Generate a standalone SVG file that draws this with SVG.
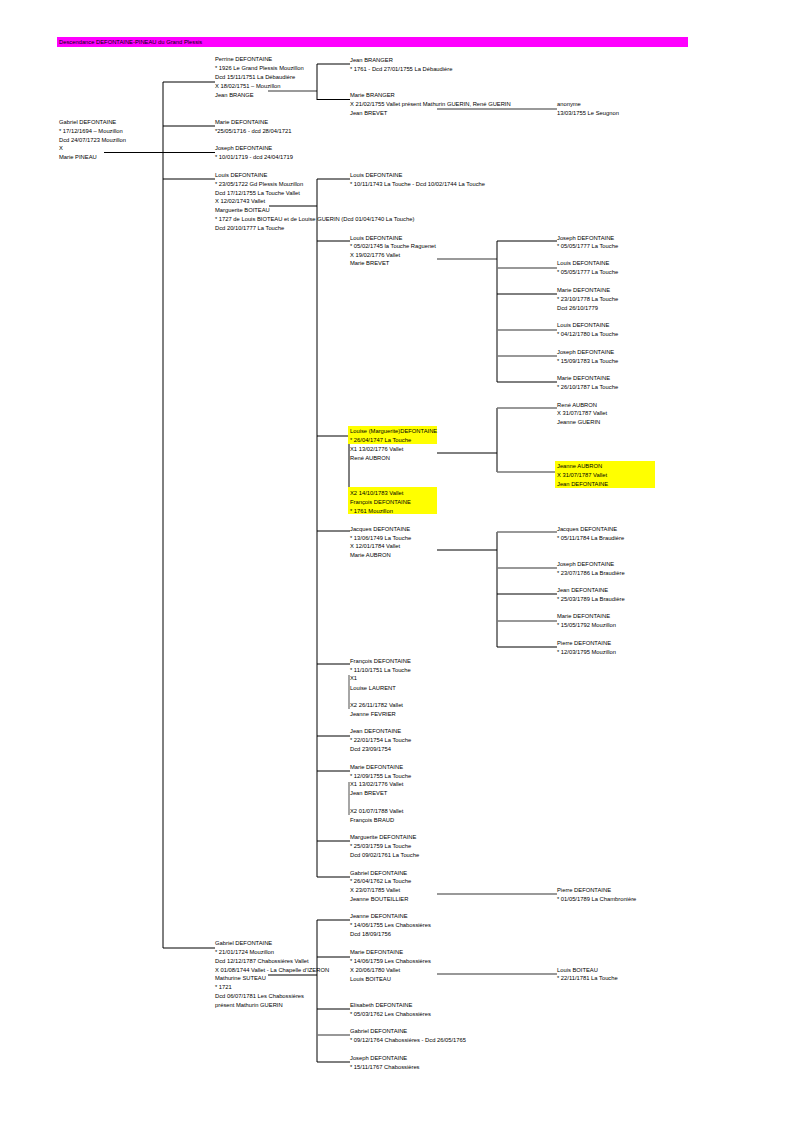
<svg xmlns="http://www.w3.org/2000/svg" width="794" height="1123" viewBox="0 0 794 1123">
<style>
text{font-family:"Liberation Sans",Arial,sans-serif;font-size:5.8px;fill:#000}
.k{stroke:#000;stroke-width:1;fill:none}
.g{stroke:#777;stroke-width:1.3;fill:none}
.hl{fill:#ffff00}
</style>
<rect width="794" height="1123" fill="#fff"/>
<g id="header">
<rect x="57" y="37" width="631" height="10" fill="#ff00ff"/>
<text x="59" y="44">Descendance DEFONTAINE-PINEAU du Grand Plessis</text>
</g>
<g id="connectors">
<path class="k" d="M163 82V948M163 82H215M163 126H215M104 152.5H215M163 179H215M163 948H215"/>
<path class="g" d="M268 91H317"/>
<path class="k" d="M317 64V100M317 64H350M317 99.5H350"/>
<path class="g" d="M437 109H557"/>
<path class="k" d="M269 206H317M317 179V877M317 179H350M317 241H350M317 436H348M317 531H350M317 664H350M317 736H350M317 771H350M317 841H350M317 877H350"/>
<path class="g" d="M437 259H497"/>
<path class="k" d="M497 241V382M497 241H557M497 294H557M497 382H557"/>
<path class="g" d="M497 268H557M497 330H557M497 356H557"/>
<path class="k" d="M349 436V497M437 453H497M497 408V472"/>
<path class="g" d="M497 408H557M497 472H557"/>
<path class="k" d="M437 550H497M497 532V647M497 594H557M497 647H557"/>
<path class="g" d="M497 532H557M497 568H557M497 621H557"/>
<path class="g" d="M349 675V709M349 782V815"/>
<path class="g" d="M437 894H557"/>
<path class="k" d="M268 975H317M317 920V1062M317 920H350M317 957H350M317 1009H350M317 1062H350"/>
<path class="g" d="M317 1035H350M437 974H557"/>
</g>
<g id="gabriel">
<text x="59" y="124">Gabriel DEFONTAINE</text>
<text x="59" y="133">* 17/12/1694 – Mouzillon</text>
<text x="59" y="142">Dcd 24/07/1723 Mouzillon</text>
<text x="59" y="150">X</text>
<text x="59" y="159">Marie PINEAU</text>
</g>
<g id="perrine">
<text x="215" y="61">Perrine DEFONTAINE</text>
<text x="215" y="70">* 1926  Le Grand Plessis Mouzillon</text>
<text x="215" y="79">Dcd 15/11/1751 La Débaudière</text>
<text x="215" y="88">X 18/02/1751 – Mouzillon</text>
<text x="215" y="97">Jean BRANGE</text>
</g>
<g id="jean-branger">
<text x="350" y="62">Jean BRANGER</text>
<text x="350" y="71">* 1761 - Dcd 27/01/1755 La Débaudière</text>
</g>
<g id="marie-branger">
<text x="350" y="97">Marie BRANGER</text>
<text x="350" y="105.5">X 21/02/1755 Vallet présent Mathurin GUERIN, René GUERIN</text>
<text x="350" y="114.5">Jean BREVET</text>
</g>
<g id="anonyme">
<text x="557" y="105.5">anonyme</text>
<text x="557" y="114.5">13/03/1755 Le Seugnon</text>
</g>
<g id="marie-1716">
<text x="215" y="124">Marie DEFONTAINE</text>
<text x="215" y="133">*25/05/1716 - dcd 28/04/1721</text>
</g>
<g id="joseph-1719">
<text x="215" y="150">Joseph DEFONTAINE</text>
<text x="215" y="159">* 10/01/1719  - dcd 24/04/1719</text>
</g>
<g id="louis-1722">
<text x="215" y="176.5">Louis DEFONTAINE</text>
<text x="215" y="185.5">* 23/05/1722 Gd Plessis Mouzillon</text>
<text x="215" y="194.5">Dcd 17/12/1755 La Touche Vallet</text>
<text x="215" y="203">X 12/02/1743 Vallet</text>
<text x="215" y="211.5">Marguerite BOITEAU</text>
<text x="215" y="220.5">* 1727 de Louis BIOTEAU et de Louise GUERIN (Dcd 01/04/1740 La Touche)</text>
<text x="215" y="229.5">Dcd 20/10/1777 La Touche</text>
</g>
<g id="louis-1743">
<text x="350" y="176.5">Louis DEFONTAINE</text>
<text x="350" y="185.5">* 10/11/1743 La Touche - Dcd 10/02/1744 La Touche</text>
</g>
<g id="louis-1745">
<text x="350" y="239.5">Louis DEFONTAINE</text>
<text x="350" y="248">* 05/02/1745 la Touche Raguenet</text>
<text x="350" y="256.5">X 19/02/1776 Vallet</text>
<text x="350" y="265">Marie BREVET</text>
</g>
<g id="joseph-1777">
<text x="557" y="239.5">Joseph DEFONTAINE</text>
<text x="557" y="248">* 05/05/1777 La Touche</text>
</g>
<g id="louis-1777">
<text x="557" y="265">Louis DEFONTAINE</text>
<text x="557" y="274">* 05/05/1777 La Touche</text>
</g>
<g id="marie-1778">
<text x="557" y="291.5">Marie DEFONTAINE</text>
<text x="557" y="300.5">* 23/10/1778 La Touche</text>
<text x="557" y="309.5">Dcd 26/10/1779</text>
</g>
<g id="louis-1780">
<text x="557" y="326.5">Louis DEFONTAINE</text>
<text x="557" y="335.5">* 04/12/1780 La Touche</text>
</g>
<g id="joseph-1783">
<text x="557" y="353.5">Joseph DEFONTAINE</text>
<text x="557" y="362.5">* 15/09/1783 La Touche</text>
</g>
<g id="marie-1787">
<text x="557" y="380">Marie DEFONTAINE</text>
<text x="557" y="389">* 26/10/1787 La Touche</text>
</g>
<g id="louise">
<rect class="hl" x="348" y="426" width="89" height="18"/>
<rect class="hl" x="348" y="487" width="89" height="27"/>
<text x="350" y="433">Louise (Marguerite)DEFONTAINE</text>
<text x="350" y="442">* 26/04/1747 La Touche</text>
<text x="350" y="451">X1  13/02/1776 Vallet</text>
<text x="350" y="459.5">René AUBRON</text>
<text x="350" y="495">X2 14/10/1783 Vallet</text>
<text x="350" y="504">François DEFONTAINE</text>
<text x="350" y="513">* 1761 Mouzillon</text>
</g>
<g id="rene-aubron">
<text x="557" y="406.5">René AUBRON</text>
<text x="557" y="415">X 31/07/1787 Vallet</text>
<text x="557" y="424">Jeanne GUERIN</text>
</g>
<g id="jeanne-aubron">
<rect class="hl" x="555" y="461" width="100" height="27"/>
<text x="557" y="468">Jeanne AUBRON</text>
<text x="557" y="477">X 31/07/1787 Vallet</text>
<text x="557" y="486">Jean DEFONTAINE</text>
</g>
<g id="jacques-1749">
<text x="350" y="530.5">Jacques DEFONTAINE</text>
<text x="350" y="539.5">* 13/06/1749 La Touche</text>
<text x="350" y="548">X 12/01/1784 Vallet</text>
<text x="350" y="557">Marie AUBRON</text>
</g>
<g id="jacques-1784">
<text x="557" y="530.5">Jacques DEFONTAINE</text>
<text x="557" y="539.5">* 05/11/1784 La Braudière</text>
</g>
<g id="joseph-1786">
<text x="557" y="565.5">Joseph DEFONTAINE</text>
<text x="557" y="574.5">* 23/07/1786 La Braudière</text>
</g>
<g id="jean-1789">
<text x="557" y="592">Jean DEFONTAINE</text>
<text x="557" y="601">* 25/03/1789 La Braudière</text>
</g>
<g id="marie-1792">
<text x="557" y="618">Marie DEFONTAINE</text>
<text x="557" y="627">* 15/05/1792 Mouzillon</text>
</g>
<g id="pierre-1795">
<text x="557" y="645">Pierre DEFONTAINE</text>
<text x="557" y="654">* 12/03/1795 Mouzillon</text>
</g>
<g id="francois-1751">
<text x="350" y="663">François DEFONTAINE</text>
<text x="350" y="671.5">* 11/10/1751 La Touche</text>
<text x="350" y="680">X1</text>
<text x="350" y="689.5">Louise LAURENT</text>
<text x="350" y="707">X2 26/11/1782 Vallet</text>
<text x="350" y="716">Jeanne FEVRIER</text>
</g>
<g id="jean-1754">
<text x="350" y="733">Jean DEFONTAINE</text>
<text x="350" y="742">* 22/01/1754 La Touche</text>
<text x="350" y="751">Dcd 23/09/1754</text>
</g>
<g id="marie-1755">
<text x="350" y="769">Marie DEFONTAINE</text>
<text x="350" y="777.5">* 12/09/1755 La Touche</text>
<text x="350" y="786">X1 13/02/1776 Vallet</text>
<text x="350" y="794.5">Jean BREVET</text>
<text x="350" y="813">X2 01/07/1788 Vallet</text>
<text x="350" y="822">François BRAUD</text>
</g>
<g id="marguerite-1759">
<text x="350" y="839">Marguerite DEFONTAINE</text>
<text x="350" y="848">* 25/03/1759 La Touche</text>
<text x="350" y="857">Dcd 09/02/1761 La Touche</text>
</g>
<g id="gabriel-1762">
<text x="350" y="874.5">Gabriel DEFONTAINE</text>
<text x="350" y="883">* 26/04/1762 La Touche</text>
<text x="350" y="892">X 23/07/1785 Vallet</text>
<text x="350" y="901">Jeanne BOUTEILLIER</text>
</g>
<g id="pierre-1789">
<text x="557" y="891.5">Pierre DEFONTAINE</text>
<text x="557" y="900.5">* 01/05/1789 La Chambronière</text>
</g>
<g id="gabriel-1724">
<text x="215" y="945">Gabriel DEFONTAINE</text>
<text x="215" y="954">* 21/01/1724 Mouzillon</text>
<text x="215" y="962.5">Dcd 12/12/1787 Chabossières Vallet</text>
<text x="215" y="971.5">X 01/08/1744 Vallet  - La Chapelle d'IZERON</text>
<text x="215" y="980">Mathurine SUTEAU</text>
<text x="215" y="989">* 1721</text>
<text x="215" y="998">Dcd 06/07/1781 Les Chabossières</text>
<text x="215" y="1006.5">présent Mathurin GUERIN</text>
</g>
<g id="jeanne-1755">
<text x="350" y="918">Jeanne DEFONTAINE</text>
<text x="350" y="927">* 14/06/1755 Les Chabossières</text>
<text x="350" y="936">Dcd 18/09/1756</text>
</g>
<g id="marie-1759">
<text x="350" y="954">Marie DEFONTAINE</text>
<text x="350" y="963">* 14/06/1759 Les Chabossières</text>
<text x="350" y="971.5">X 20/06/1780 Vallet</text>
<text x="350" y="980.5">Louis BOITEAU</text>
</g>
<g id="louis-boiteau">
<text x="557" y="971.5">Louis BOITEAU</text>
<text x="557" y="980">* 22/11/1781 La Touche</text>
</g>
<g id="elisabeth-1762">
<text x="350" y="1007">Elisabeth DEFONTAINE</text>
<text x="350" y="1016">* 05/03/1762 Les Chabossières</text>
</g>
<g id="gabriel-1764">
<text x="350" y="1033">Gabriel DEFONTAINE</text>
<text x="350" y="1042">* 09/12/1764 Chabossières - Dcd 26/05/1765</text>
</g>
<g id="joseph-1767">
<text x="350" y="1060">Joseph DEFONTAINE</text>
<text x="350" y="1069">* 15/11/1767 Chabossières</text>
</g>
</svg>
